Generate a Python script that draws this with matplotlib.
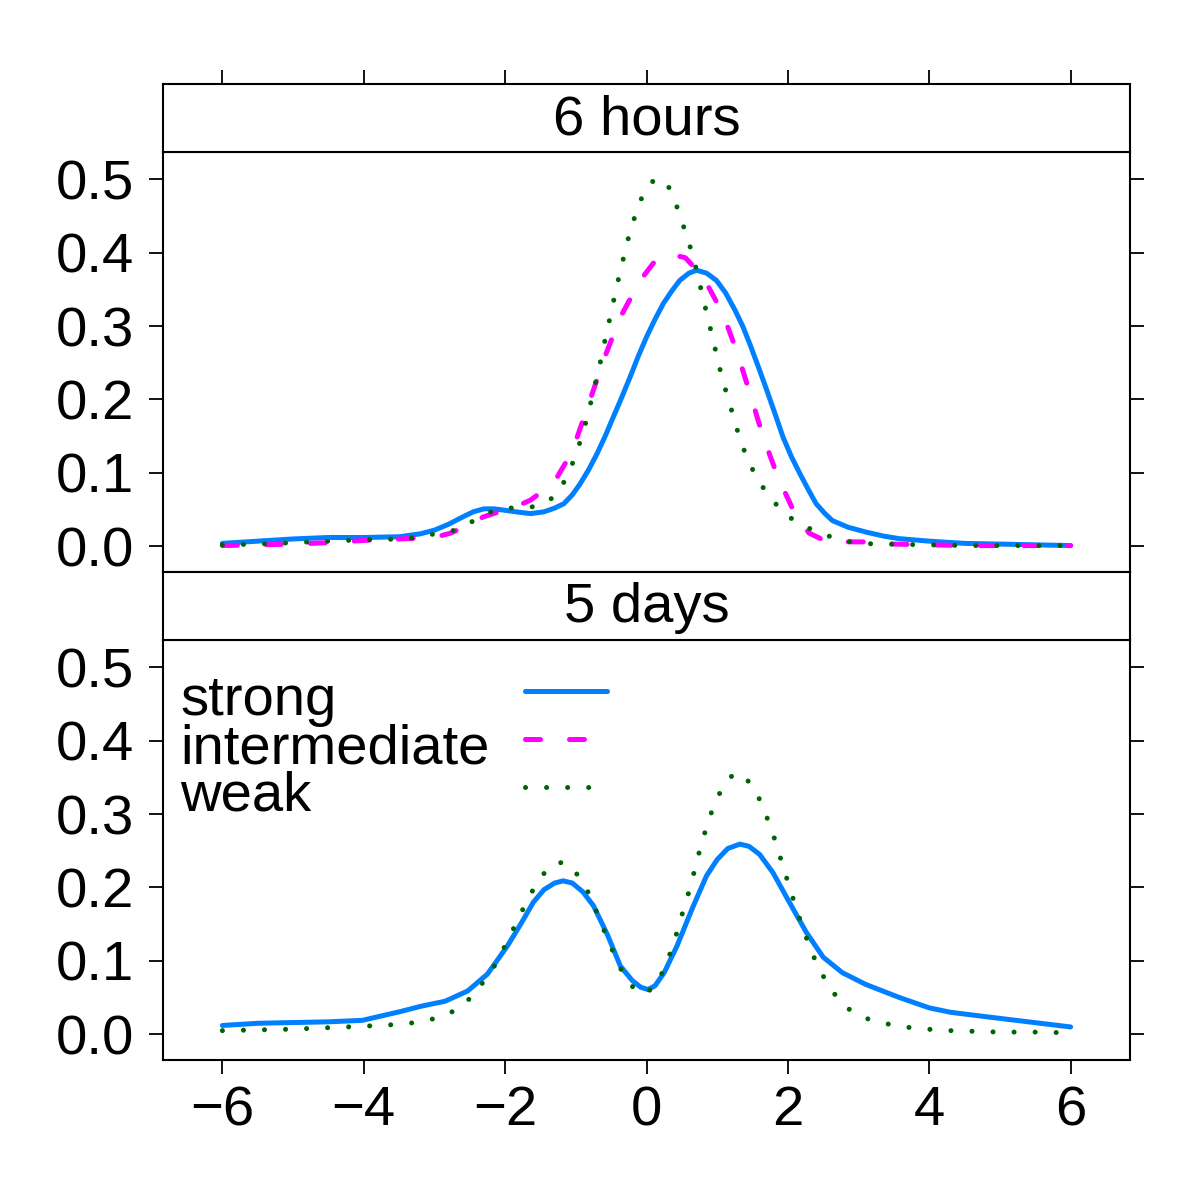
import numpy as np
import matplotlib.pyplot as plt
from matplotlib.lines import Line2D

plt.rcParams['font.family'] = ['Liberation Sans', 'DejaVu Sans']

# ========================= DATA =========================
panel_titles = ['6 hours', '5 days']
series_names = ['strong', 'intermediate', 'weak']

# 6 hours
x6h_strong = [-6, -5.5, -5, -4.5, -4, -3.5, -3.2, -3, -2.8, -2.6, -2.45, -2.3, -2.15, -2.0,
              -1.85, -1.64, -1.45, -1.3, -1.17, -1.05, -0.94, -0.82, -0.70, -0.58, -0.47,
              -0.35, -0.23, -0.12, 0.0, 0.12, 0.24, 0.36, 0.47, 0.6, 0.71, 0.85, 0.99, 1.12,
              1.25, 1.36, 1.46, 1.58, 1.70, 1.82, 1.93, 2.05, 2.17, 2.29, 2.40, 2.52, 2.63,
              2.85, 3.1, 3.35, 3.57, 4, 4.5, 5, 5.5, 6]
y6h_strong = [0.004, 0.007, 0.010, 0.012, 0.012, 0.013, 0.017, 0.022, 0.030, 0.040, 0.047,
              0.051, 0.051, 0.049, 0.047, 0.0445, 0.047, 0.052, 0.058, 0.070, 0.085, 0.104,
              0.126, 0.151, 0.176, 0.203, 0.231, 0.258, 0.285, 0.309, 0.331, 0.348, 0.362,
              0.372, 0.376, 0.372, 0.362, 0.345, 0.322, 0.300, 0.276, 0.245, 0.213, 0.180,
              0.149, 0.122, 0.099, 0.077, 0.058, 0.045, 0.035, 0.026, 0.0195, 0.014, 0.0105,
              0.007, 0.004, 0.003, 0.002, 0.001]

x6h_inter = [-6, -5.5, -5, -4.5, -4, -3.5, -3, -2.77, -2.5, -2.31, -2.15, -2.0, -1.8, -1.64,
             -1.47, -1.29, -1.13, -0.98, -0.80, -0.59, -0.37, -0.09, 0.1, 0.33, 0.55, 0.80,
             1.08, 1.29, 1.48, 1.65, 1.86, 2.12, 2.3, 2.59, 2.8, 3.2, 3.5, 4, 4.5, 5, 5.5, 6]
y6h_inter = [0.001, 0.002, 0.003, 0.005, 0.008, 0.010, 0.012, 0.018, 0.030, 0.040, 0.045,
             0.050, 0.056, 0.063, 0.075, 0.090, 0.116, 0.149, 0.199, 0.258, 0.312, 0.362,
             0.386, 0.398, 0.393, 0.367, 0.317, 0.262, 0.203, 0.149, 0.094, 0.040, 0.018,
             0.0045, 0.006, 0.006, 0.003, 0.002, 0.001, 0.001, 0.001, 0.001]

x6h_weak = [-6, -5.5, -5, -4.5, -4, -3.4, -2.7, -2.16, -1.85, -1.55, -1.29, -1.14, -1.02,
            -0.92, -0.84, -0.77, -0.70, -0.63, -0.57, -0.50, -0.44, -0.37, -0.30, -0.23,
            -0.12, -0.02, 0.1, 0.2, 0.3, 0.37, 0.47, 0.57, 0.66, 0.73, 0.80, 0.87, 0.94,
            1.01, 1.08, 1.17, 1.25, 1.34, 1.45, 1.59, 1.77, 1.98, 2.24, 2.51, 2.80, 3.10,
            3.4, 4, 4.5, 5, 5.5, 6]
y6h_weak = [0.002, 0.003, 0.005, 0.007, 0.009, 0.010, 0.022, 0.049, 0.053, 0.054, 0.068,
            0.092, 0.119, 0.148, 0.175, 0.203, 0.232, 0.260, 0.289, 0.318, 0.346, 0.375,
            0.403, 0.430, 0.462, 0.486, 0.498, 0.501, 0.492, 0.478, 0.452, 0.422, 0.395,
            0.367, 0.338, 0.310, 0.282, 0.253, 0.225, 0.197, 0.169, 0.141, 0.114, 0.088,
            0.064, 0.042, 0.027, 0.016, 0.0073, 0.0036, 0.003, 0.002, 0.001, 0.001, 0.001,
            0.001]

# 5 days
x5d_strong = [-6, -5.5, -5, -4.5, -4.02, -3.48, -3.2, -2.85, -2.53, -2.25, -1.97, -1.78,
              -1.6, -1.45, -1.3, -1.18, -1.05, -0.9, -0.75, -0.55, -0.37, -0.2, -0.08, 0.02,
              0.12, 0.25, 0.43, 0.65, 0.85, 1.0, 1.15, 1.32, 1.45, 1.6, 1.79, 2.02, 2.26,
              2.5, 2.77, 3.1, 3.58, 4.0, 4.3, 4.8, 5.4, 6]
y5d_strong = [0.012, 0.015, 0.016, 0.017, 0.019, 0.031, 0.038, 0.045, 0.059, 0.082, 0.120,
              0.150, 0.180, 0.197, 0.206, 0.209, 0.206, 0.194, 0.175, 0.135, 0.093, 0.073,
              0.064, 0.061, 0.066, 0.084, 0.120, 0.172, 0.216, 0.238, 0.253, 0.259, 0.256,
              0.245, 0.220, 0.180, 0.139, 0.105, 0.084, 0.068, 0.050, 0.036, 0.030, 0.024,
              0.017, 0.010]

x5d_weak = [-6, -5.5, -5, -4.5, -4, -3.6, -3.26, -2.97, -2.69, -2.46, -2.28, -2.11, -1.98,
            -1.84, -1.71, -1.57, -1.39, -1.25, -1.12, -0.92, -0.78, -0.67, -0.56, -0.44,
            -0.31, -0.12, 0.0, 0.13, 0.27, 0.37, 0.46, 0.54, 0.63, 0.70, 0.78, 0.87, 0.97,
            1.11, 1.23, 1.35, 1.54, 1.66, 1.77, 1.86, 1.95, 2.04, 2.13, 2.23, 2.33, 2.46,
            2.61, 2.8, 3.06, 3.35, 3.8, 4.3, 5, 5.5, 6]
y5d_weak = [0.005, 0.006, 0.007, 0.009, 0.011, 0.013, 0.016, 0.022, 0.033, 0.052, 0.075,
            0.099, 0.125, 0.152, 0.178, 0.203, 0.227, 0.234, 0.233, 0.211, 0.185, 0.158,
            0.132, 0.105, 0.078, 0.056, 0.057, 0.066, 0.093, 0.120, 0.148, 0.176, 0.203,
            0.232, 0.260, 0.289, 0.316, 0.342, 0.354, 0.355, 0.333, 0.306, 0.279, 0.251,
            0.223, 0.195, 0.168, 0.140, 0.113, 0.086, 0.061, 0.038, 0.023, 0.015, 0.008,
            0.005, 0.003, 0.003, 0.002]

x_ticks = [-6, -4, -2, 0, 2, 4, 6]
y_ticks = [0.0, 0.1, 0.2, 0.3, 0.4, 0.5]
y_ticklabels = ['0.0', '0.1', '0.2', '0.3', '0.4', '0.5']

# ========================= STYLE =========================
FS = 40.5
LW = 3.6
styles = {
    'strong': dict(color='#0080ff', lw=LW, linestyle='-', solid_capstyle='round',
                   solid_joinstyle='round'),
    'intermediate': dict(color='#ff00ff', lw=LW, linestyle=(0, (3.0, 5.8)),
                         dash_capstyle='round', dash_joinstyle='round'),
    'weak': dict(color='#006400', lw=LW, linestyle=(0, (0.01, 4.2)), dash_capstyle='round'),
}
XLIM = (-6.84, 6.84)
YLIM = (-0.035, 0.537)
SPINE_LW = 1.5

# ========================= LAYOUT =========================
fig = plt.figure(figsize=(12, 12), dpi=100)
left, width = 163 / 1200, (1130 - 163) / 1200
ax_top = fig.add_axes([left, 1 - 572 / 1200, width, 420 / 1200])
strip_top = fig.add_axes([left, 1 - 152 / 1200, width, 68 / 1200])
ax_bot = fig.add_axes([left, 1 - 1060 / 1200, width, 420 / 1200])
strip_bot = fig.add_axes([left, 1 - 640 / 1200, width, 68 / 1200])

for ax in (ax_top, strip_top, ax_bot, strip_bot):
    ax.set_xlim(*XLIM)
    for s in ax.spines.values():
        s.set_linewidth(SPINE_LW)

# strips
for strip, title in zip((strip_top, strip_bot), panel_titles):
    strip.set_yticks([])
    strip.set_ylim(0, 1)
    strip.text(0.5, 0.47, title, transform=strip.transAxes, ha='center', va='center', fontsize=FS)
strip_top.set_xticks(x_ticks)
strip_top.tick_params(axis='x', top=True, bottom=False, labeltop=False, labelbottom=False,
                      direction='out', length=10, width=1.3)
strip_bot.set_xticks([])

# panels
for ax in (ax_top, ax_bot):
    ax.set_ylim(*YLIM)
    ax.set_yticks(y_ticks)
    ax.set_yticklabels(y_ticklabels)
    ax.tick_params(axis='y', left=True, right=True, labelleft=True, labelright=False,
                   direction='out', length=10, width=1.3, pad=11, labelsize=FS)

ax_top.set_xticks([])
ax_bot.set_xticks(x_ticks)
ax_bot.tick_params(axis='x', bottom=True, top=False, direction='out', length=10, width=1.3,
                   pad=8, labelsize=FS)

# curves
ax_top.plot(x6h_strong, y6h_strong, **styles['strong'])
ax_top.plot(x6h_inter, y6h_inter, **styles['intermediate'])
ax_top.plot(x6h_weak, y6h_weak, **styles['weak'])

ax_bot.plot(x5d_strong, y5d_strong, **styles['strong'])
ax_bot.plot(x5d_weak, y5d_weak, **styles['weak'])

# key inside the lower panel
text_y = [0.821, 0.707, 0.593]
line_y = [0.879, 0.764, 0.650]
for name, ty, ly in zip(series_names, text_y, line_y):
    ax_bot.text(0.0176, ty, name, transform=ax_bot.transAxes, ha='left', va='baseline', fontsize=FS)
    ax_bot.add_line(Line2D([0.374, 0.459], [ly, ly], transform=ax_bot.transAxes, **styles[name]))

plt.savefig('out.png', dpi=100)
